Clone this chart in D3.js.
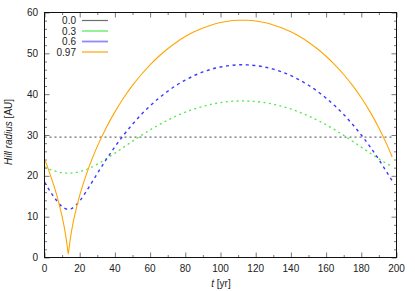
<!DOCTYPE html>
<html lang="en">
<head>
<meta charset="UTF-8">
<title>Hill radius</title>
<script src="https://d3js.org/d3.v7.min.js"></script>
<style>
  body { margin: 0; background: #fff; }
  text { font-family: "Liberation Sans", Arial, sans-serif; font-size: 10px; fill: #222; }
</style>
</head>
<body>
<div id="chart"></div>
<script>
// time samples [yr]
const tCommon = [0,5,10,13.5,15,20,25,30,35,40,45,50,55,60,65,70,75,80,85,90,95,100,105,110,112.5,
                 115,120,125,130,135,140,145,150,155,160,165,170,175,180,185,190,195,197.5];
const tCircular = [0, 197.5];
const tEcc97 = [0,2,5,7,7.5,8,9.5,10,11,12,12.5,13,13.5,14,14.5,15,16,17,17.5,19,20,22,25,27.5,30,35,40,45,50,55,
                60,65,70,75,80,85,90,95,100,105,110,112.5,115,120,125,130,135,140,145,150,155,160,165,170,175,180,185,190,195,197.5];

// Hill radius [AU] for each eccentricity
const hill00 = [29.5, 29.5];
const hill03 = [22.18,21.29,20.76,20.65,20.67,21.03,21.78,22.86,24.15,25.56,27.03,28.49,29.91,31.25,32.50,33.64,34.67,35.58,36.37,37.02,37.54,37.94,38.20,38.33,38.35,
                38.33,38.20,37.94,37.54,37.02,36.37,35.58,34.67,33.64,32.50,31.25,29.91,28.49,27.03,25.56,24.15,22.86,22.29];
const hill06 = [18.47,15.06,12.45,11.80,11.92,13.86,17.07,20.56,23.95,27.11,30.00,32.63,35.01,37.14,39.03,40.71,42.19,43.45,44.53,45.44,46.13,46.65,47.00,47.18,47.20,
                47.18,47.00,46.65,46.13,45.44,44.53,43.45,42.19,40.71,39.03,37.14,35.01,32.63,30.00,27.11,23.95,20.56,18.83];
const hill097 = [24.10,21.84,18.03,15.19,14.37,13.58,10.94,10.00,7.94,5.50,4.09,2.45,0.885,2.45,4.09,5.50,7.94,10.00,10.94,13.58,
                 15.19,18.03,21.84,24.64,27.21,31.74,35.67,39.11,42.14,44.82,47.20,49.29,51.12,52.73,54.10,55.27,56.21,56.96,57.53,57.91,
                 58.09,58.12,58.09,57.91,57.53,56.96,56.21,55.27,54.10,52.73,51.12,49.29,47.20,44.82,42.14,39.11,35.67,31.74,27.21,24.64];

const legendLabels = ["0.0", "0.3", "0.6", "0.97"];
const xTicks = [0,20,40,60,80,100,120,140,160,180,200];
const yTicks = [0,10,20,30,40,50,60];

const series = [
  {label: legendLabels[0], t: tCircular, r: hill00,  color: "#6e6e6e", dash: "2,3",   width: 1.3},
  {label: legendLabels[1], t: tCommon,   r: hill03,  color: "#4fe84f", dash: "2,3.4", width: 1.3},
  {label: legendLabels[2], t: tCommon,   r: hill06,  color: "#3a3aff", dash: "3,3.6", width: 1.4},
  {label: legendLabels[3], t: tEcc97,    r: hill097, color: "#ffa500", dash: null,    width: 1.1}
];

const W = 415, H = 291;
const x = d3.scaleLinear().domain([0, 200]).range([44.5, 396.5]);
const y = d3.scaleLinear().domain([0, 60]).range([257.5, 12.5]);

const svg = d3.select("#chart").append("svg")
    .attr("width", W).attr("height", H);

svg.append("clipPath").attr("id", "plotclip")
  .append("rect")
    .attr("x", x(0)).attr("y", y(60))
    .attr("width", x(200) - x(0)).attr("height", y(0) - y(60));

// ticks (inward, mirrored on all sides)
const minorX = d3.range(0, 201, 10).filter(v => v % 20 !== 0);
const minorY = d3.range(0, 61, 2).filter(v => v % 10 !== 0);

function tickAxis(axisFn, scale, values, size, transform) {
  const g = svg.append("g").attr("transform", transform)
    .call(axisFn(scale).tickValues(values).tickSize(size).tickFormat(""));
  g.select(".domain").remove();
  g.selectAll("line").attr("stroke", "#555").attr("stroke-width", 0.8);
  return g;
}
tickAxis(d3.axisBottom, x, xTicks, -5, `translate(0,${y(0)})`);
tickAxis(d3.axisBottom, x, minorX, -2.5, `translate(0,${y(0)})`);
tickAxis(d3.axisTop, x, xTicks, -5, `translate(0,${y(60)})`);
tickAxis(d3.axisTop, x, minorX, -2.5, `translate(0,${y(60)})`);
tickAxis(d3.axisLeft, y, yTicks, -5, `translate(${x(0)},0)`);
tickAxis(d3.axisLeft, y, minorY, -2.5, `translate(${x(0)},0)`);
tickAxis(d3.axisRight, y, yTicks, -5, `translate(${x(200)},0)`);
tickAxis(d3.axisRight, y, minorY, -2.5, `translate(${x(200)},0)`);

// tick labels
svg.append("g").selectAll("text").data(xTicks).join("text")
    .attr("x", d => x(d)).attr("y", 272)
    .attr("text-anchor", "middle")
    .text(d => d);
svg.append("g").selectAll("text").data(yTicks).join("text")
    .attr("x", 38).attr("y", d => y(d) + 3.5)
    .attr("text-anchor", "end")
    .text(d => d);

// curves
const line = d3.line()
    .x(d => x(d[0])).y(d => y(d[1]))
    .curve(d3.curveMonotoneX);

const plot = svg.append("g").attr("clip-path", "url(#plotclip)");
plot.selectAll("path").data(series).join("path")
    .attr("d", s => line(s.t.map((t, i) => [t, s.r[i]])))
    .attr("fill", "none")
    .attr("stroke", s => s.color)
    .attr("stroke-width", s => s.width)
    .attr("stroke-dasharray", s => s.dash);

// frame
svg.append("rect")
    .attr("x", x(0)).attr("y", y(60))
    .attr("width", x(200) - x(0)).attr("height", y(0) - y(60))
    .attr("fill", "none").attr("stroke", "#111").attr("stroke-width", 1);

// legend
const legend = svg.append("g");
series.forEach((s, i) => {
  const ly = 20.5 + i * 10.5;
  legend.append("text")
      .attr("x", 76).attr("y", ly + 3.5)
      .attr("text-anchor", "end")
      .text(s.label);
  legend.append("line")
      .attr("x1", 82).attr("x2", 108)
      .attr("y1", ly).attr("y2", ly)
      .attr("stroke", i === 2 ? "#8c8cff" : s.color)
      .attr("stroke-width", i === 2 ? 1.8 : 1.2);
});

// axis titles
svg.append("text")
    .attr("x", 221).attr("y", 287)
    .attr("text-anchor", "middle")
    .html('<tspan font-style="italic">t</tspan> [yr]');
svg.append("text")
    .attr("transform", "translate(12,132) rotate(-90)")
    .attr("text-anchor", "middle")
    .html('<tspan font-style="italic">Hill radius</tspan> [AU]');
</script>
</body>
